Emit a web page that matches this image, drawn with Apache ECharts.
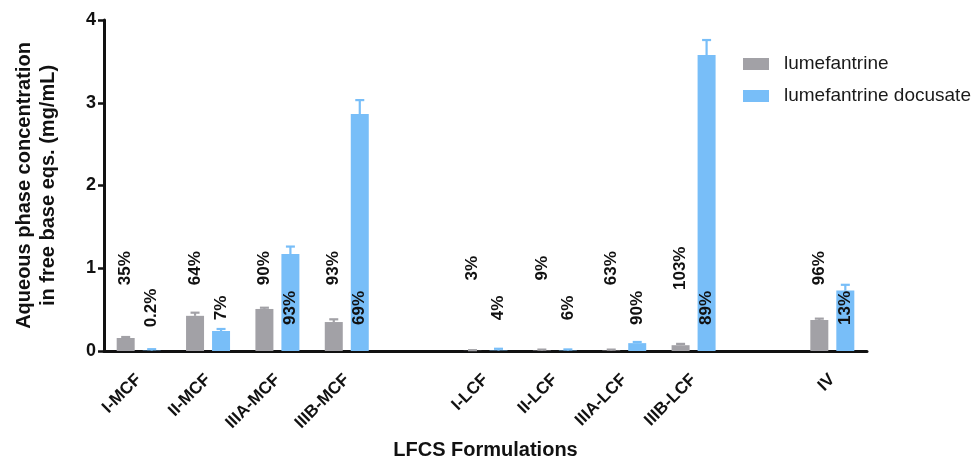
<!DOCTYPE html>
<html>
<head>
<meta charset="utf-8">
<script src="https://cdn.jsdelivr.net/npm/echarts@6/dist/echarts.min.js"></script>
<style>
  html, body { margin: 0; padding: 0; background: #fff; }
  #chart { width: 978px; height: 459px; }
</style>
</head>
<body>
<div id="chart"></div>
<script>
// Formulation categories (blank slots separate the MCF, LCF and IV groups)
const categories = ['I-MCF', 'II-MCF', 'IIIA-MCF', 'IIIB-MCF', '', 'I-LCF', 'II-LCF', 'IIIA-LCF', 'IIIB-LCF', '', 'IV'];

// Aqueous phase concentration (mg/mL, free base eqs.), mean and SD
const lumefantrineMean = [0.157, 0.425, 0.508, 0.35, null, 0.002, 0.005, 0.005, 0.07, null, 0.375];
const lumefantrineSD   = [0.012, 0.038, 0.015, 0.033, null, 0.008, 0.012, 0.012, 0.016, null, 0.016];
const docusateMean     = [0.004, 0.242, 1.172, 2.864, null, 0.005, 0.005, 0.095, 3.577, null, 0.73];
const docusateSD       = [0.018, 0.024, 0.09, 0.168, null, 0.022, 0.014, 0.014, 0.181, null, 0.07];

// Percentage annotations above each bar
const lumefantrinePct = ['35%', '64%', '90%', '93%', '', '3%', '9%', '63%', '103%', '', '96%'];
const docusatePct     = ['0.2%', '7%', '93%', '69%', '', '4%', '6%', '90%', '89%', '', '13%'];

const seriesNames = ['lumefantrine', 'lumefantrine docusate'];

const GREY = '#a2a1a6';
const BLUE = '#78bef8';
const BAR_W = 18;
const BAR_GAP_PX = 8;
const HALF_STEP = (BAR_W + BAR_GAP_PX) / 2;   // bar centre offset from category centre
const FONT = '"Liberation Sans", Arial, Helvetica, sans-serif';

function errorBarData(mean, sd) {
  return mean.map((m, i) => (m == null ? null : [i, m, sd[i]]))
             .filter(d => d !== null);
}

function errorBarRenderer(offset, color) {
  return function (params, api) {
    const idx = api.value(0);
    const mean = api.value(1);
    const sd = api.value(2);
    const base = api.coord([idx, mean]);
    const top = api.coord([idx, mean + sd]);
    const x = base[0] + offset;
    const cap = BAR_W / 4;
    return {
      type: 'group',
      children: [
        { type: 'line', shape: { x1: x, y1: base[1], x2: x, y2: top[1] },
          style: { stroke: color, lineWidth: 2.2 } },
        { type: 'line', shape: { x1: x - cap, y1: top[1], x2: x + cap, y2: top[1] },
          style: { stroke: color, lineWidth: 2.2 } }
      ]
    };
  };
}

// Percentage text series: the text sits at a fixed height per series, rotated to read upward
function pctSeries(labels, offset, anchorValue) {
  const items = labels.map((t, i) => ({ idx: i, text: t })).filter(d => d.text !== '');
  return {
    type: 'custom',
    data: items.map(d => [d.idx, anchorValue]),
    z: 5,
    silent: true,
    renderItem: function (params, api) {
      const p = api.coord([api.value(0), api.value(1)]);
      return {
        type: 'text',
        x: p[0] + offset,
        y: p[1],
        rotation: Math.PI / 2,
        style: {
          text: items[params.dataIndex].text,
          fill: '#111',
          font: 'bold 17px ' + FONT,
          align: 'center',
          verticalAlign: 'middle'
        }
      };
    }
  };
}

const chart = echarts.init(document.getElementById('chart'), null, { renderer: 'canvas' });

chart.setOption({
  backgroundColor: '#fff',
  animation: false,
  grid: { left: 104, right: 111, top: 20, bottom: 108, containLabel: false, outerBoundsMode: 'none' },
  legend: {
    data: seriesNames,
    orient: 'vertical',
    left: 743,
    top: 54,
    padding: 0,
    icon: 'rect',
    itemWidth: 26,
    itemHeight: 12,
    itemGap: 12,
    textStyle: { fontFamily: FONT, fontSize: 19, color: '#1a1a1a', lineHeight: 20, padding: [0, 0, 0, 10] }
  },
  xAxis: {
    type: 'category',
    data: categories,
    name: 'LFCS Formulations',
    nameLocation: 'middle',
    nameGap: 89,
    nameTextStyle: { fontFamily: FONT, fontSize: 20, fontWeight: 'bold', color: '#111' },
    axisLine: { lineStyle: { color: '#111', width: 3 } },
    axisTick: { alignWithLabel: true, length: 7, lineStyle: { color: '#111', width: 2.5 } },
    axisLabel: {
      interval: 0, rotate: 45, margin: 26,
      fontFamily: FONT, fontSize: 17, fontWeight: 'bold', color: '#111'
    },
    splitLine: { show: false }
  },
  yAxis: {
    type: 'value',
    min: 0, max: 4, interval: 1,
    name: 'Aqueous phase concentration\nin free base eqs. (mg/mL)',
    nameLocation: 'middle',
    nameGap: 44,
    nameTextStyle: { fontFamily: FONT, fontSize: 20, fontWeight: 'bold', color: '#111', lineHeight: 24, align: 'center' },
    axisLine: { show: true, lineStyle: { color: '#111', width: 3 } },
    axisTick: { show: true, length: 6, lineStyle: { color: '#111', width: 2.5 } },
    axisLabel: { margin: 8, fontFamily: FONT, fontSize: 18, fontWeight: 'bold', color: '#111' },
    splitLine: { show: false }
  },
  series: [
    {
      name: seriesNames[0], type: 'bar', data: lumefantrineMean,
      barWidth: BAR_W, barGap: (BAR_GAP_PX / BAR_W * 100) + '%',
      itemStyle: { color: GREY }
    },
    {
      name: seriesNames[1], type: 'bar', data: docusateMean,
      barWidth: BAR_W,
      itemStyle: { color: BLUE }
    },
    {
      type: 'custom', data: errorBarData(lumefantrineMean, lumefantrineSD),
      renderItem: errorBarRenderer(-HALF_STEP, GREY), z: 3, silent: true
    },
    {
      type: 'custom', data: errorBarData(docusateMean, docusateSD),
      renderItem: errorBarRenderer(HALF_STEP, BLUE), z: 3, silent: true
    },
    pctSeries(lumefantrinePct, -HALF_STEP, 1.0),
    pctSeries(docusatePct, HALF_STEP, 0.52)
  ]
});
</script>
</body>
</html>
